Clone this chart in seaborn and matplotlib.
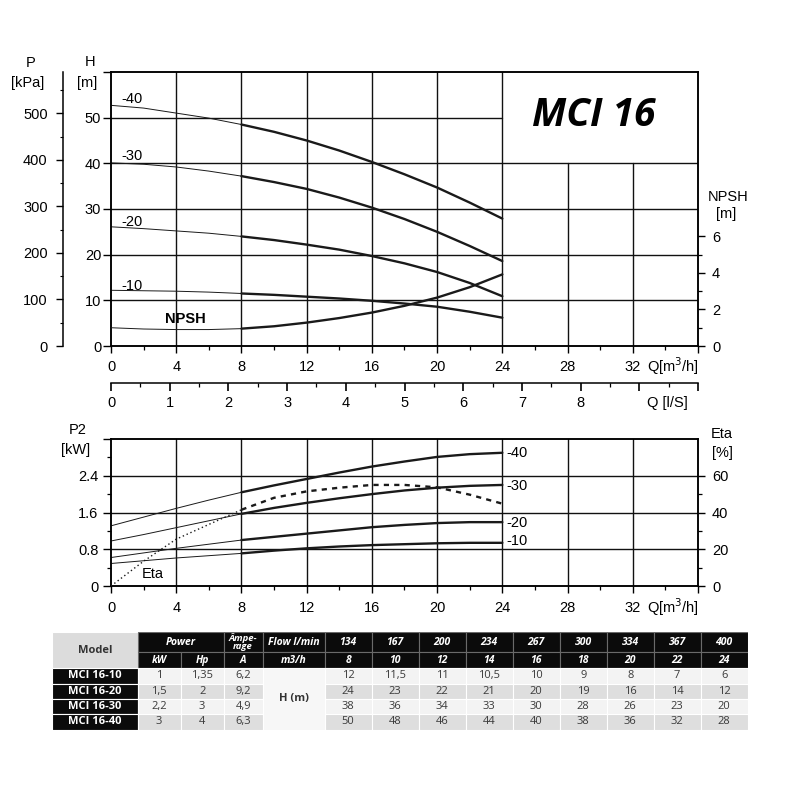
import numpy as np
import pandas as pd
import seaborn as sns
import matplotlib.pyplot as plt
from matplotlib.patches import Rectangle
from matplotlib.ticker import MultipleLocator

# ---- curve data (Q in m3/h) ----
q = [0, 2, 4, 6, 8, 10, 12, 14, 16, 18, 20, 22, 24]

head = {
    "-40": [52.7, 52.1, 51.0, 49.9, 48.5, 46.9, 45.0, 42.8, 40.3, 37.6, 34.7, 31.4, 27.9],
    "-30": [40.1, 39.8, 39.2, 38.3, 37.2, 35.9, 34.4, 32.5, 30.3, 27.8, 25.0, 21.9, 18.6],
    "-20": [26.1, 25.7, 25.2, 24.7, 24.0, 23.2, 22.2, 21.1, 19.7, 18.1, 16.2, 13.8, 10.9],
    "-10": [12.2, 12.1, 12.0, 11.8, 11.5, 11.2, 10.8, 10.4, 9.9, 9.3, 8.6, 7.5, 6.2],
}
npsh = [1.0, 0.93, 0.9, 0.9, 0.95, 1.08, 1.28, 1.53, 1.83, 2.2, 2.65, 3.22, 3.92]

p2 = {
    "-40": [1.31, 1.50, 1.69, 1.87, 2.04, 2.19, 2.33, 2.47, 2.60, 2.71, 2.81, 2.87, 2.90],
    "-30": [0.98, 1.12, 1.27, 1.42, 1.57, 1.70, 1.81, 1.91, 2.00, 2.08, 2.14, 2.18, 2.20],
    "-20": [0.62, 0.72, 0.82, 0.91, 1.00, 1.07, 1.14, 1.21, 1.28, 1.33, 1.37, 1.39, 1.39],
    "-10": [0.49, 0.55, 0.61, 0.66, 0.71, 0.77, 0.82, 0.86, 0.89, 0.91, 0.93, 0.94, 0.94],
}
eta = [0, 13.5, 25.5, 33.5, 41.5, 48, 51.5, 53.5, 55, 55, 53.7, 49.7, 44.8]

# ---- table data ----
table_models = ["MCI 16-10", "MCI 16-20", "MCI 16-30", "MCI 16-40"]
table_kw = ["1", "1,5", "2,2", "3"]
table_hp = ["1,35", "2", "3", "4"]
table_amp = ["6,2", "9,2", "4,9", "6,3"]
table_lmin = ["134", "167", "200", "234", "267", "300", "334", "367", "400"]
table_m3h = ["8", "10", "12", "14", "16", "18", "20", "22", "24"]
table_head = [
    ["12", "11,5", "11", "10,5", "10", "9", "8", "7", "6"],
    ["24", "23", "22", "21", "20", "19", "16", "14", "12"],
    ["38", "36", "34", "33", "30", "28", "26", "23", "20"],
    ["50", "48", "46", "44", "40", "38", "36", "32", "28"],
]

sns.set_theme(style="ticks")
plt.rcParams["font.family"] = ["Liberation Sans", "DejaVu Sans"]
plt.rcParams["axes.linewidth"] = 1.1
for key in ("text.color", "axes.edgecolor", "xtick.color", "ytick.color", "axes.labelcolor"):
    plt.rcParams[key] = "black"

W = H = 800
fig = plt.figure(figsize=(8, 8), dpi=100)
fig.patch.set_facecolor("white")


def frac(x0, y0, x1, y1):
    return [x0 / W, 1 - y1 / H, (x1 - x0) / W, (y1 - y0) / H]


def ftext(x, y, s, **kw):
    fig.text(x / W, 1 - y / H, s, ha="center", va="center", fontsize=10.5, **kw)


GRID = dict(color="#111111", lw=1.0, zorder=1)
THIN, THICK = 0.7, 1.7
split = 4  # index of Q=8, where the thick part starts

# ================= top chart: H / NPSH =================
ax = fig.add_axes(frac(111, 72, 698, 346))
ax.set_xlim(0, 36)
ax.set_ylim(0, 60)
for v in range(4, 36, 4):
    ax.axvline(v, ymax=1 if v <= 24 else 40 / 60, **GRID)
for h in range(10, 60, 10):
    ax.axhline(h, xmax=1 if h <= 40 else 24 / 36, **GRID)

for name, vals in head.items():
    sns.lineplot(x=q[:split + 1], y=vals[:split + 1], ax=ax, color="k", lw=THIN, zorder=3)
    sns.lineplot(x=q[split:], y=vals[split:], ax=ax, color="k", lw=THICK, zorder=3)

ax.set_xticks(range(0, 37, 4))
ax.set_xticklabels([str(v) for v in range(0, 33, 4)] + [""])
ax.xaxis.set_minor_locator(MultipleLocator(2))
ax.set_yticks(range(0, 61, 10))
ax.set_yticklabels([str(v) for v in range(0, 51, 10)] + [""])
ax.tick_params(axis="x", which="major", direction="out", length=5, width=1.0, pad=5, labelsize=10.5)
ax.tick_params(axis="x", which="minor", direction="out", length=3, width=0.9)
ax.tick_params(axis="y", which="major", direction="out", length=6, width=1.0, pad=1, labelsize=10.5)
ax.set_xlabel("")
ax.set_ylabel("")

ax_n = ax.twinx()
sns.lineplot(x=q[:split + 1], y=npsh[:split + 1], ax=ax_n, color="k", lw=THIN, zorder=3)
sns.lineplot(x=q[split:], y=npsh[split:], ax=ax_n, color="k", lw=THICK, zorder=3)
ax_n.set_ylim(0, 15)
ax_n.set_xlim(0, 36)
ax_n.set_yticks([0, 2, 4, 6])
ax_n.yaxis.set_minor_locator(plt.FixedLocator([1, 3, 5]))
ax_n.tick_params(axis="y", which="major", direction="out", length=5, width=1.0, pad=5, labelsize=10.5)
ax_n.tick_params(axis="y", which="minor", direction="out", length=3, width=0.9)
ax_n.set_ylabel("")

ax_p = ax.twinx()
ax_p.set_ylim(0, 60 * 9.81)
ax_p.yaxis.set_ticks_position("left")
ax_p.spines["left"].set_position(("outward", 34.6))
for s in ("right", "top", "bottom"):
    ax_p.spines[s].set_visible(False)
ax_p.spines["left"].set_visible(True)
ax_p.set_yticks(range(0, 501, 100))
ax_p.yaxis.set_minor_locator(MultipleLocator(50))
ax_p.tick_params(axis="y", which="major", direction="out", length=5, width=1.0, pad=6, labelsize=10.5)
ax_p.tick_params(axis="y", which="minor", direction="out", length=2.5, width=0.8)

ax_ls = ax.twiny()
ax_ls.set_xlim(0, 10)
ax_ls.xaxis.set_ticks_position("bottom")
ax_ls.spines["bottom"].set_position(("outward", 26.6))
for s in ("right", "top", "left"):
    ax_ls.spines[s].set_visible(False)
ax_ls.set_xticks(range(0, 11))
ax_ls.set_xticklabels([str(v) for v in range(0, 9)] + ["", ""])
ax_ls.xaxis.set_minor_locator(MultipleLocator(0.5))
ax_ls.tick_params(axis="x", which="major", direction="out", length=5.5, width=1.2, pad=4, labelsize=10.5)
ax_ls.tick_params(axis="x", which="minor", direction="out", length=3, width=0.9)

for lbl, hv in zip(head.keys(), [54.0, 41.5, 27.1, 13.1]):
    ax.text(0.61, hv, lbl, fontsize=10.5, ha="left", va="center", zorder=4)
ax.text(4.54, 5.9, "NPSH", fontsize=10.5, fontweight="bold", ha="center", va="center", zorder=4)
ax.text(29.6, 50.5, "MCI 16", fontsize=28, fontweight="bold", fontstyle="italic",
        family=["Open Sans", "DejaVu Sans"], ha="center", va="center", color="black")

ftext(31, 63, "P")
ftext(28, 83, "[kPa]")
ftext(90, 62, "H")
ftext(87, 83, "[m]")
ftext(728, 197, "NPSH")
ftext(726, 214, "[m]")
fig.text(647 / W, 1 - 366 / H, "Q[m$^3$/h]", ha="left", va="center", fontsize=10.5)
fig.text(647 / W, 1 - 403 / H, "Q [l/S]", ha="left", va="center", fontsize=10.5)

# ================= bottom chart: P2 / Eta =================
ax2 = fig.add_axes(frac(111, 439, 698, 586))
ax2.set_xlim(0, 36)
ax2.set_ylim(0, 3.2)
for v in range(4, 36, 4):
    ax2.axvline(v, **GRID)
for h in (0.8, 1.6, 2.4):
    ax2.axhline(h, **GRID)

for name, vals in p2.items():
    sns.lineplot(x=q[:split + 1], y=vals[:split + 1], ax=ax2, color="k", lw=THIN, zorder=3)
    sns.lineplot(x=q[split:], y=vals[split:], ax=ax2, color="k", lw=THICK, zorder=3)

ax2.set_xticks(range(0, 37, 4))
ax2.set_xticklabels([str(v) for v in range(0, 33, 4)] + [""])
ax2.xaxis.set_minor_locator(MultipleLocator(2))
ax2.set_yticks([0, 0.8, 1.6, 2.4, 3.2])
ax2.set_yticklabels(["0", "0.8", "1.6", "2.4", ""])
ax2.yaxis.set_minor_locator(plt.FixedLocator([0.4, 1.2, 2.0, 2.8]))
ax2.tick_params(axis="x", which="major", direction="out", length=5, width=1.0, pad=6, labelsize=10.5)
ax2.tick_params(axis="x", which="minor", direction="out", length=3, width=0.9)
ax2.tick_params(axis="y", which="major", direction="out", length=6, width=1.0, pad=3, labelsize=10.5)
ax2.tick_params(axis="y", which="minor", direction="out", length=3, width=0.9)
ax2.set_xlabel("")
ax2.set_ylabel("")

ax_e = ax2.twinx()
sns.lineplot(x=q[:split + 1], y=eta[:split + 1], ax=ax_e, color="k", lw=1.0, ls=(0, (1, 2)), zorder=3)
sns.lineplot(x=q[split:], y=eta[split:], ax=ax_e, color="k", lw=1.7, ls=(0, (2.2, 2.2)), zorder=3)
ax_e.set_ylim(0, 80)
ax_e.set_xlim(0, 36)
ax_e.set_yticks([0, 20, 40, 60])
ax_e.yaxis.set_minor_locator(plt.FixedLocator([10, 30, 50]))
ax_e.tick_params(axis="y", which="major", direction="out", length=5, width=1.0, pad=5, labelsize=10.5)
ax_e.tick_params(axis="y", which="minor", direction="out", length=3, width=0.9)
ax_e.set_ylabel("")

for lbl, pv in zip(p2.keys(), [2.90, 2.18, 1.37, 0.98]):
    ax2.text(24.25, pv, lbl, fontsize=10.5, ha="left", va="center", zorder=4)
ax2.text(2.54, 0.26, "Eta", fontsize=10.5, ha="center", va="center", zorder=4)

ftext(78, 430, "P2")
ftext(76, 450, "[kW]")
ftext(722, 434, "Eta")
ftext(722, 453, "[%]")
fig.text(647 / W, 1 - 607 / H, "Q[m$^3$/h]", ha="left", va="center", fontsize=10.5)

# ================= table =================
col_w = [86, 43, 43, 39, 62] + [47] * 9
row_h = [20, 16, 15.3, 15.3, 15.3, 15.3]
xe = np.concatenate([[0], np.cumsum(col_w)])
ye = np.concatenate([[0], np.cumsum(row_h)])

axt = fig.add_axes(frac(51.7, 632.3, 51.7 + xe[-1], 632.3 + ye[-1]))
axt.set_xlim(0, xe[-1])
axt.set_ylim(ye[-1], 0)
axt.axis("off")

TF = ["Open Sans", "DejaVu Sans"]
BLACK, LIGHT, DARK = "#0b0b0b", "#f3f3f3", "#dedede"


def cell(c0, c1, r0, r1, face, text="", color="#3a3a3a", weight="normal",
         style="normal", size=8, edge="white", **kw):
    axt.add_patch(Rectangle((xe[c0], ye[r0]), xe[c1] - xe[c0], ye[r1] - ye[r0],
                            facecolor=face, edgecolor=edge, lw=0.8))
    if text:
        axt.text((xe[c0] + xe[c1]) / 2, (ye[r0] + ye[r1]) / 2, text, ha="center", va="center",
                 color=color, fontweight=weight, fontstyle=style, fontsize=size, family=TF, **kw)


HDR = dict(color="white", weight="bold", style="italic", edge="#6a6a6a")
cell(0, 1, 0, 2, "#dcdcdc", "Model", color="#333333", weight="bold", size=8)
cell(1, 3, 0, 1, BLACK, "Power", size=7.5, **HDR)
cell(3, 4, 0, 1, BLACK, "Âmpe-\nrage", size=6.8, linespacing=0.85, **HDR)
cell(4, 5, 0, 1, BLACK, "Flow l/min", size=7.5, **HDR)
for j, v in enumerate(table_lmin):
    cell(5 + j, 6 + j, 0, 1, BLACK, v, size=7.5, **HDR)
for j, v in enumerate(["kW", "Hp", "A", "m3/h"] + table_m3h):
    cell(1 + j, 2 + j, 1, 2, BLACK, v, size=7.5, **HDR)

for i in range(4):
    r = 2 + i
    face = LIGHT if i % 2 == 0 else DARK
    cell(0, 1, r, r + 1, BLACK, table_models[i], color="white", weight="bold", size=8)
    cell(1, 2, r, r + 1, face, table_kw[i])
    cell(2, 3, r, r + 1, face, table_hp[i])
    cell(3, 4, r, r + 1, face, table_amp[i])
    for j, v in enumerate(table_head[i]):
        cell(5 + j, 6 + j, r, r + 1, face, v)
cell(4, 5, 2, 6, "#f7f7f7", "H (m)", color="#333333", weight="bold", size=8)

fig.savefig("out.png", dpi=100, facecolor="white")
